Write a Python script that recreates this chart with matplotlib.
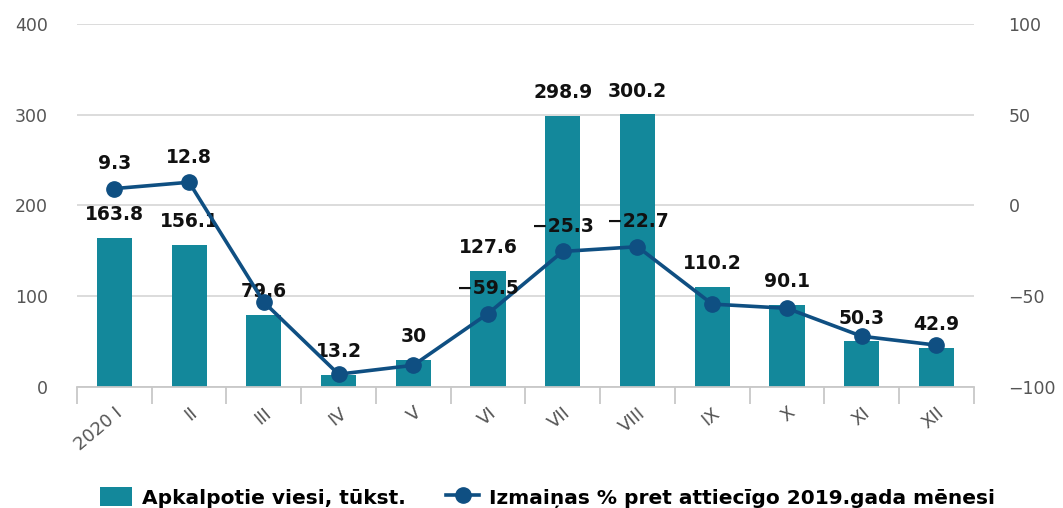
import matplotlib
matplotlib.use("Agg")
import matplotlib.pyplot as plt
import numpy as np

months = ["2020 I", "II", "III", "IV", "V", "VI", "VII", "VIII", "IX", "X", "XI", "XII"]
guests = [163.8, 156.1, 79.6, 13.2, 30, 127.6, 298.9, 300.2, 110.2, 90.1, 50.3, 42.9]
change = [9.3, 12.8, -53.2, -92.9, -88.0, -59.5, -25.3, -22.7, -54.3, -56.6, -72.0, -76.9]
change_labels = ["9.3", "12.8", None, None, None, "−59.5", "−25.3", "−22.7", None, None, None, None]
bar_labels = ["163.8", "156.1", "79.6", "13.2", "30", "127.6", "298.9", "300.2", "110.2", "90.1", "50.3", "42.9"]
left_ticks = [0, 100, 200, 300, 400]
right_ticks = [-100, -50, 0, 50, 100]
right_tick_labels = ["−100", "−50", "0", "50", "100"]

bar_color = "#13889b"
line_color = "#0f4f82"
grid_color = "#d9d9d9"
tick_color = "#555555"

plt.rcParams['font.family'] = ['DejaVu Sans']

fig = plt.figure(figsize=(10.63, 5.08), dpi=100)
ax = fig.add_axes([0.0724, 0.238, 0.8437, 0.715])
x = np.arange(len(months))
ax.bar(x, guests, width=0.47, color=bar_color, zorder=2, label="Apkalpotie viesi, tūkst.")
ax.set_xlim(-0.5, len(months) - 0.5)
ax.set_ylim(0, 400)
ax.set_yticks(left_ticks)
ax.set_yticklabels([str(t) for t in left_ticks])
ax.yaxis.grid(True, color=grid_color, linewidth=1.3, zorder=0)
for s in ["top", "left", "right"]:
    ax.spines[s].set_visible(False)
ax.spines["bottom"].set_color("#c8c8c8")
ax.spines["bottom"].set_linewidth(1.3)
ax.tick_params(axis="y", length=0, pad=21, labelsize=12.5, labelcolor=tick_color)
ax.set_xticks(x)
ax.set_xticklabels(months, rotation=40, ha="right", rotation_mode="anchor",
                   fontsize=13, color=tick_color)
ax.tick_params(axis="x", which="major", length=0, pad=12)
ax.set_xticks(np.arange(-0.5, len(months), 1.0), minor=True)
ax.tick_params(axis="x", which="minor", length=12, width=1.3, color="#c8c8c8")

for xi, v, lab in zip(x, guests, bar_labels):
    ax.annotate(lab, (xi, v), xytext=(0, 10), textcoords="offset points",
                ha="center", va="bottom", fontsize=13.5, fontweight="bold", color="#111111", zorder=6)

ax2 = ax.twinx()
ax2.set_ylim(-100, 100)
ax2.set_yticks(right_ticks)
ax2.set_yticklabels(right_tick_labels)
for s in ["top", "left", "right", "bottom"]:
    ax2.spines[s].set_visible(False)
ax2.tick_params(axis="y", length=0, pad=25, labelsize=12.5, labelcolor=tick_color)
ax2.plot(x, change, color=line_color, linewidth=2.6, marker="o", markersize=11, zorder=5,
         label="Izmaiņas % pret attiecīgo 2019.gada mēnesi")
for xi, v, lab in zip(x, change, change_labels):
    if lab:
        ax2.annotate(lab, (xi, v), xytext=(0, 11), textcoords="offset points",
                     ha="center", va="bottom", fontsize=13.5, fontweight="bold", color="#111111", zorder=6)

h1, l1 = ax.get_legend_handles_labels()
h2, l2 = ax2.get_legend_handles_labels()
fig.legend(h1 + h2, l1 + l2, loc="lower center", bbox_to_anchor=(0.515, -0.035), ncol=2,
           frameon=False, prop={"weight": "bold", "size": 14.5}, handlelength=1.6,
           handleheight=1.1, handletextpad=0.5, columnspacing=2.0)

fig.savefig("out.png", dpi=100)
